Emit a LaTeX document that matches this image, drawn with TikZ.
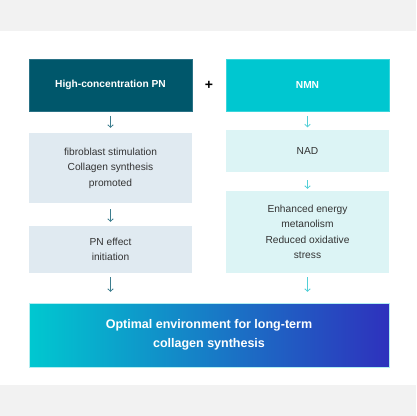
\documentclass[tikz,border=0pt]{standalone}
\usepackage{fontspec}
\setmainfont{Liberation Sans}
\usetikzlibrary{arrows.meta}
\definecolor{pndark}{HTML}{00576B}
\definecolor{pnborder}{HTML}{2A7286}
\definecolor{nmn}{HTML}{00C7D0}
\definecolor{nmnborder}{HTML}{3AD5DB}
\definecolor{lightL}{HTML}{E0EAF1}
\definecolor{lightR}{HTML}{DCF4F5}
\definecolor{gradL}{HTML}{00C8D0}
\definecolor{gradR}{HTML}{2E31BD}
\definecolor{arrL}{HTML}{3C7D8E}
\definecolor{arrR}{HTML}{52CFD7}
\definecolor{txt}{HTML}{333333}
\definecolor{bggrey}{HTML}{F2F2F2}
\tikzset{
  box/.style={rectangle, inner sep=0pt, minimum width=163pt, align=center, font=\fontsize{10.2}{15.5}\selectfont, text=txt},
  headL/.style={box, fill=pndark, draw=pnborder, line width=0.5pt, text=white, font=\bfseries\fontsize{10.2}{15.5}\selectfont},
  headR/.style={box, fill=nmn, draw=nmnborder, line width=0.5pt, text=white, font=\bfseries\fontsize{10.2}{15.5}\selectfont},
  lboxL/.style={box, fill=lightL},
  lboxR/.style={box, fill=lightR},
  arrowL/.style={draw=arrL, line width=0.8pt, -{Straight Barb[length=2.5pt,width=5.5pt]}},
  arrowR/.style={draw=arrR, line width=0.8pt, -{Straight Barb[length=2.5pt,width=5.5pt]}},
}
\begin{document}
\begin{tikzpicture}[x=1pt,y=-1pt]
\useasboundingbox (0,0) rectangle (416,416);
\fill[bggrey] (0,0) rectangle (416,416);
\fill[white] (0,31) rectangle (416,385);
% top row
\node[headL, minimum height=52pt] (pn) at (110.5,85) {High-concentration PN};
\node[headR, minimum height=52pt] (nmn) at (307.5,85) {NMN};
\node[font=\bfseries\fontsize{14}{14}\selectfont, text=black] (plus) at (209,85) {+};
% left column
\node[lboxL, minimum height=70pt] (fib) at (110.5,168) {fibroblast stimulation\\Collagen synthesis\\promoted};
\node[lboxL, minimum height=47pt] (pne) at (110.5,249.5) {PN effect\\initiation};
% right column
\node[lboxR, minimum height=42pt] (nad) at (307.5,151) {NAD};
\node[lboxR, minimum height=82pt] (enh) at (307.5,232) {Enhanced energy\\metanolism\\Reduced oxidative\\stress};
% bottom
\node[rectangle, inner sep=0pt, minimum width=360pt, minimum height=64pt, left color=gradL, right color=gradR, draw=white!70!gradL, line width=0.4pt, align=center, text=white, font=\bfseries\fontsize{12.5}{19}\selectfont] (opt) at (209,335) {Optimal environment for long-term\\collagen synthesis};
% arrows
\draw[arrowL, shorten <=4.5pt, shorten >=5pt] (pn.south) -- (fib.north);
\draw[arrowL, shorten <=6pt, shorten >=4pt] (fib.south) -- (pne.north);
\draw[arrowL, shorten <=4pt, shorten >=11pt] (pne.south) -- (opt.north -| pne.south);
\draw[arrowR, shorten <=4.5pt, shorten >=2.5pt] (nmn.south) -- (nad.north);
\draw[arrowR, shorten <=8pt, shorten >=2pt] (nad.south) -- (enh.north);
\draw[arrowR, shorten <=4pt, shorten >=11pt] (enh.south) -- (opt.north -| enh.south);
\end{tikzpicture}
\end{document}
